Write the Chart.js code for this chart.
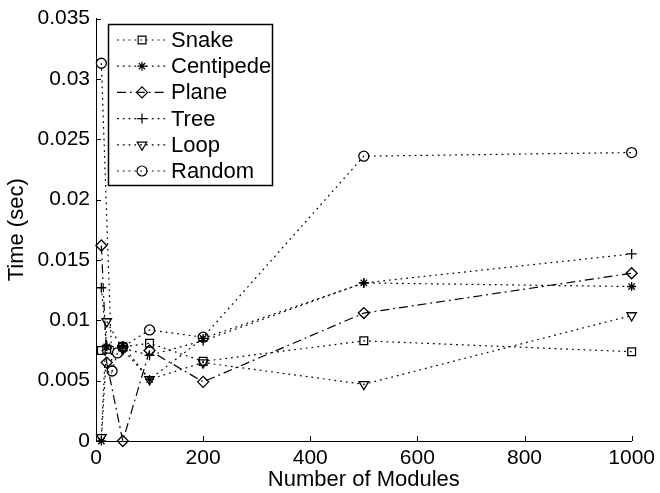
<!DOCTYPE html>
<html>
<head>
<meta charset="utf-8">
<script src="https://cdn.jsdelivr.net/npm/chart.js@4.4.1/dist/chart.umd.min.js"></script>
<style>
  body { margin: 0; background: #fff; }
</style>
</head>
<body>
<canvas id="chart" width="660" height="493"></canvas>
<script>
// module counts on the x axis
const sizes = [10, 20, 50, 100, 200, 500, 1000];
const randomSizes = [10, 30, 40, 50, 100, 200, 500, 1000];

// times in seconds
const snake     = [0.0075, 0.0076, 0.0078, 0.0081, 0.0066, 0.0083, 0.0074];
const centipede = [0.0000, 0.0078, 0.0079, 0.0051, 0.0085, 0.0131, 0.0128];
const plane     = [0.0162, 0.0065, 0.0000, 0.0075, 0.0049, 0.0106, 0.0139];
const tree      = [0.0127, 0.0079, 0.0077, 0.0071, 0.0083, 0.0131, 0.0155];
const loop      = [0.0003, 0.0099, 0.0076, 0.0051, 0.0065, 0.0047, 0.0104];
const random    = [0.0313, 0.0058, 0.0073, 0.0078, 0.0092, 0.0086, 0.0236, 0.0239];

const xTicks = [0, 200, 400, 600, 800, 1000];
const yTicks = [0, 0.005, 0.01, 0.015, 0.02, 0.025, 0.03, 0.035];

const font = '"Liberation Sans", Arial, Helvetica, sans-serif';
const dotted = [1.8, 4];
const dashDot = [9, 4, 1.8, 4];

function pts(xs, ys) {
    return xs.map((x, i) => ({x: x, y: ys[i]}));
}

function serie(label, xs, ys, style, radius, dash, rot) {
    return {
        label: label,
        data: pts(xs, ys),
        borderColor: '#000',
        borderWidth: 1.2,
        borderDash: dash,
        pointStyle: style,
        pointRadius: radius,
        pointRotation: rot || 0,
        pointBorderColor: '#000',
        pointBackgroundColor: 'rgba(0,0,0,0)',
        pointBorderWidth: 1.3,
        tension: 0,
        clip: false
    };
}

// inward tick marks, matlab style
const inTicks = {
    id: 'inTicks',
    afterDraw(chart) {
        const ctx = chart.ctx;
        const a = chart.chartArea;
        const x = chart.scales.x, y = chart.scales.y;
        ctx.save();
        ctx.strokeStyle = '#000';
        ctx.lineWidth = 1;
        ctx.beginPath();
        x.ticks.forEach(t => {
            const px = Math.round(x.getPixelForValue(t.value)) + 0.5;
            ctx.moveTo(px, a.bottom);
            ctx.lineTo(px, a.bottom - 5);
        });
        y.ticks.forEach(t => {
            const py = Math.round(y.getPixelForValue(t.value)) + 0.5;
            ctx.moveTo(a.left, py);
            ctx.lineTo(a.left + 5, py);
        });
        ctx.stroke();
        ctx.restore();
    }
};

// boxed legend with line sample + marker
const boxLegend = {
    id: 'boxLegend',
    afterDraw(chart) {
        const ctx = chart.ctx;
        ctx.save();
        ctx.fillStyle = '#fff';
        ctx.fillRect(108, 24, 164, 161);
        ctx.strokeStyle = '#000';
        ctx.lineWidth = 1.5;
        ctx.strokeRect(108.5, 24.5, 164, 161);
        chart.data.datasets.forEach((ds, i) => {
            const y = 40 + i * 26.2;
            ctx.strokeStyle = '#000';
            ctx.lineWidth = ds.borderWidth;
            ctx.setLineDash(ds.borderDash);
            ctx.beginPath();
            ctx.moveTo(117, y);
            ctx.lineTo(167, y);
            ctx.stroke();
            ctx.setLineDash([]);
            ctx.fillStyle = 'rgba(0,0,0,0)';
            Chart.helpers.drawPoint(ctx, {
                pointStyle: ds.pointStyle,
                radius: ds.pointRadius,
                rotation: ds.pointRotation,
                borderWidth: ds.pointBorderWidth
            }, 142, y);
            ctx.fillStyle = '#000';
            ctx.font = '22px ' + font;
            ctx.textBaseline = 'middle';
            ctx.fillText(ds.label, 171, y + 1);
        });
        ctx.restore();
    }
};

var ctx = document.getElementById('chart').getContext('2d');

var chart = new Chart(ctx, {
    type: 'line',
    data: {
        datasets: [
            serie('Snake', sizes, snake, 'rect', 5.5, dotted),
            serie('Centipede', sizes, centipede, 'star', 4.5, dotted),
            serie('Plane', sizes, plane, 'rectRot', 5.5, dashDot),
            serie('Tree', sizes, tree, 'cross', 5, dotted),
            serie('Loop', sizes, loop, 'triangle', 5.5, dotted, 180),
            serie('Random', randomSizes, random, 'circle', 5, dotted)
        ]
    },
    options: {
        responsive: false,
        animation: false,
        layout: { padding: { left: 0, right: 26, top: 15, bottom: 0 } },
        plugins: {
            legend: { display: false },
            tooltip: { enabled: false }
        },
        scales: {
            x: {
                type: 'linear',
                min: 0,
                max: 1000,
                afterBuildTicks: s => { s.ticks = xTicks.map(v => ({value: v})); },
                afterFit: s => { s.height = 52; },
                grid: { display: false, drawTicks: false },
                border: { display: true, color: '#000', width: 1 },
                ticks: {
                    color: '#000',
                    font: { family: font, size: 21 },
                    padding: 5,
                    maxRotation: 0,
                    callback: v => String(v)
                },
                title: {
                    display: true,
                    text: 'Number of Modules',
                    color: '#000',
                    font: { family: font, size: 22 },
                    padding: { top: 0, bottom: 0 }
                }
            },
            y: {
                min: 0,
                max: 0.035,
                afterBuildTicks: s => { s.ticks = yTicks.map(v => ({value: v})); },
                afterFit: s => { s.width = 96; },
                grid: { display: false, drawTicks: false },
                border: { display: true, color: '#000', width: 1 },
                ticks: {
                    color: '#000',
                    font: { family: font, size: 21 },
                    padding: 6,
                    callback: v => String(+v.toFixed(3))
                },
                title: {
                    display: true,
                    text: 'Time (sec)',
                    color: '#000',
                    font: { family: font, size: 22 },
                    padding: { top: 4, bottom: 0 }
                }
            }
        }
    },
    plugins: [inTicks, boxLegend]
});
</script>
</body>
</html>
